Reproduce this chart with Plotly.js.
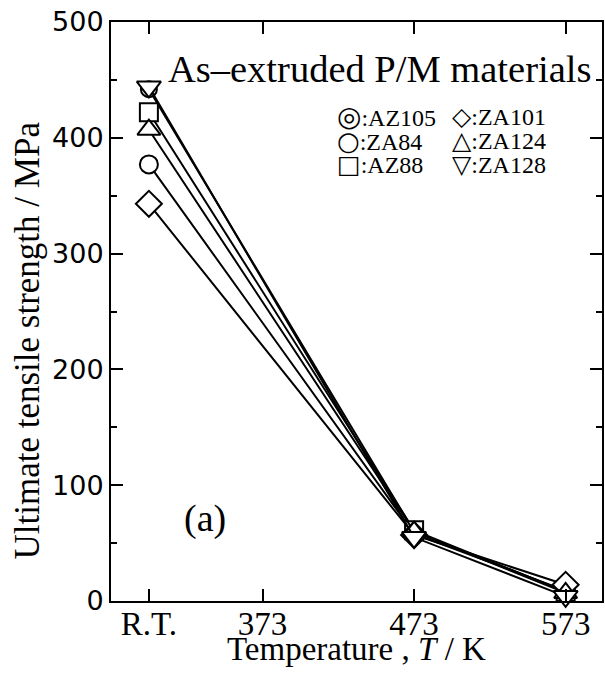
<!DOCTYPE html>
<html>
<head>
<meta charset="utf-8">
<script src="https://cdn.plot.ly/plotly-3.0.1.min.js"></script>
<style>html,body{margin:0;padding:0;background:#fff;}#chart{width:605px;height:675px;}</style>
</head>
<body>
<div id="chart"></div>
<script>
// Data
const temps = [298, 473, 573];
const xTickVals = [298, 373, 473, 573];
const xTickText = ['R.T.', '373', '473', '573'];
const seriesNames = ['AZ105', 'ZA84', 'AZ88', 'ZA101', 'ZA124', 'ZA128'];
const AZ105 = [442, 60, 8];
const ZA84 = [377, 58, 9];
const AZ88 = [422, 61, 8];
const ZA101 = [343, 57, 14];
const ZA124 = [407, 60, 7];
const ZA128 = [444, 55, 4];
const legendSymbols = ['◎', '○', '□', '◇', '△', '▽'];
const legendSymbolSizes = [28, 26, 25, 25, 25, 25];

const values = {AZ105, ZA84, AZ88, ZA101, ZA124, ZA128};
const markerSymbols = {AZ105:'circle', ZA84:'circle', AZ88:'square', ZA101:'diamond', ZA124:'triangle-up', ZA128:'triangle-down'};
const markerSizes = {AZ105:16, ZA84:18, AZ88:18, ZA101:20, ZA124:20, ZA128:21};

const traces = [];
seriesNames.forEach(n => {
  traces.push({
    x: temps, y: values[n], name: n, type: 'scatter', mode: 'lines+markers',
    line: {color: '#000', width: 2},
    marker: {symbol: markerSymbols[n], size: markerSizes[n], color: '#fff', line: {color: '#000', width: 2}},
    cliponaxis: false, showlegend: false
  });
  if (n === 'AZ105') {
    traces.push({
      x: temps, y: values[n], name: n + ' inner', type: 'scatter', mode: 'markers',
      marker: {symbol: 'circle-open', size: 8, color: '#000', line: {color: '#000', width: 2}},
      cliponaxis: false, showlegend: false
    });
  }
});
const serif = 'Liberation Serif, Times New Roman, serif';
const annotations = [
  {text: 'As\u2013extruded P/M materials', x: 0.112, y: 0.918, xref: 'paper', yref: 'paper', xanchor: 'left', yanchor: 'middle', showarrow: false, font: {family: serif, size: 38.5, color: '#000'}},
  {text: '(a)', x: 0.145, y: 0.143, xref: 'paper', yref: 'paper', xanchor: 'left', yanchor: 'middle', showarrow: false, font: {family: serif, size: 38, color: '#000'}},
  {text: 'Temperature , <i>T</i> / K', x: 0.5, y: -0.083, xref: 'paper', yref: 'paper', xanchor: 'center', yanchor: 'middle', showarrow: false, font: {family: serif, size: 33, color: '#000'}},
  {text: 'Ultimate tensile strength / MPa', x: -0.171, y: 0.45, xref: 'paper', yref: 'paper', xanchor: 'center', yanchor: 'middle', textangle: -90, showarrow: false, font: {family: serif, size: 35, color: '#000'}}
];
const colX = [0.458, 0.692];
const rowY = [0.836, 0.795, 0.754];
seriesNames.forEach((n, i) => {
  const col = Math.floor(i / 3), row = i % 3;
  annotations.push({
    text: '<span style="font-family:DejaVu Sans;font-size:' + legendSymbolSizes[i] + 'px">' + legendSymbols[i] + '</span>:' + n,
    x: colX[col], y: rowY[row], xref: 'paper', yref: 'paper',
    xanchor: 'left', yanchor: 'middle', showarrow: false, borderpad: 0,
    font: {family: serif, size: 24, color: '#000'}
  });
});

const layout = {
  width: 605, height: 675,
  margin: {l: 111, r: 3, t: 22, b: 74},
  paper_bgcolor: '#fff', plot_bgcolor: '#fff',
  showlegend: false,
  xaxis: {
    range: [273, 597], tickvals: xTickVals, ticktext: xTickText,
    ticks: 'inside', ticklen: 12, tickwidth: 2, tickcolor: '#000',
    showline: true, linecolor: '#000', linewidth: 2, mirror: 'ticks',
    showgrid: false, zeroline: false, ticklabelstandoff: -8,
    tickfont: {family: serif, size: 33, color: '#000'}
  },
  yaxis: {
    range: [0, 500], tickvals: [0, 100, 200, 300, 400, 500],
    ticks: 'inside', ticklen: 12, tickwidth: 2, tickcolor: '#000',
    minor: {tickvals: [50, 150, 250, 350, 450], ticks: 'inside', ticklen: 6, tickwidth: 2, tickcolor: '#000'},
    showline: true, linecolor: '#000', linewidth: 2, mirror: 'ticks',
    showgrid: false, zeroline: false,
    tickfont: {family: 'DejaVu Sans, sans-serif', size: 27, color: '#000'}
  },
  annotations: annotations
};
Plotly.newPlot('chart', traces, layout, {displayModeBar: false, staticPlot: true});
</script>
</body>
</html>
